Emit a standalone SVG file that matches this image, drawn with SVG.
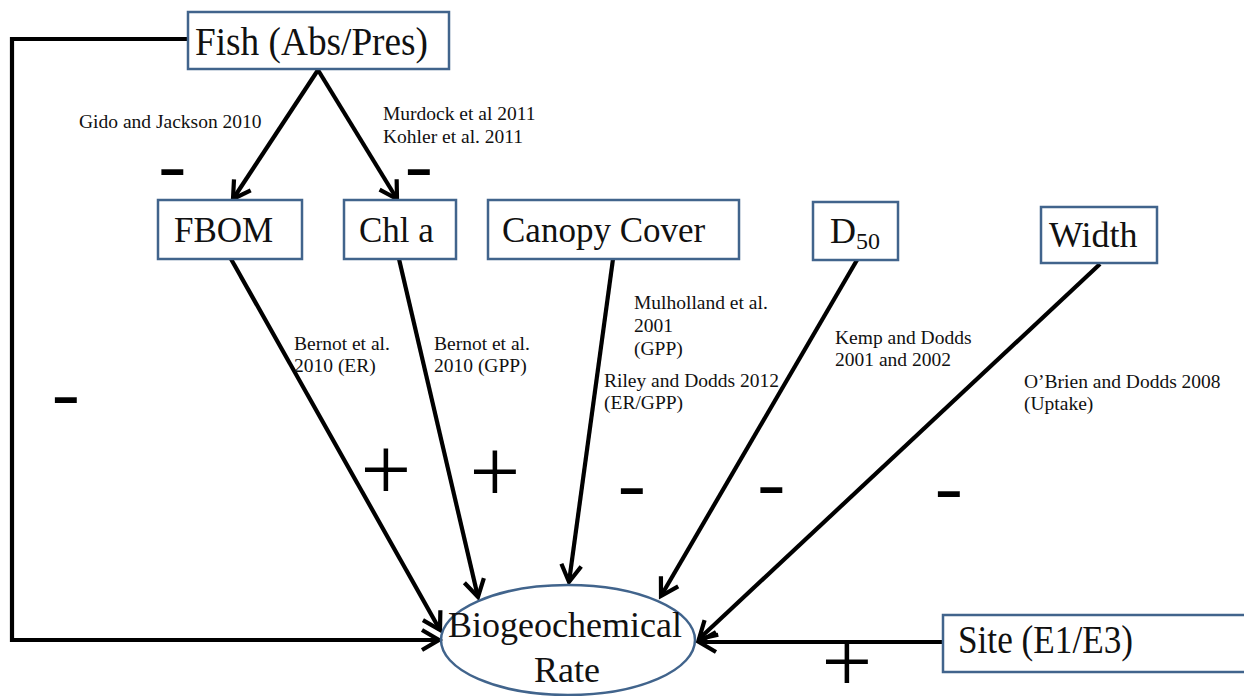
<svg xmlns="http://www.w3.org/2000/svg" width="1244" height="696" viewBox="0 0 1244 696">
<defs>
<marker id="arr" markerUnits="userSpaceOnUse" markerWidth="30" markerHeight="30" viewBox="-22 -15 26 30" refX="0" refY="0" orient="auto">
<path d="M -17 -10 L 0 0 L -17 10" fill="none" stroke="#000" stroke-width="4.2" stroke-linejoin="miter"/>
</marker>
<style>
.box{fill:#fff;stroke:#41648c;stroke-width:2.5}
.big{font-family:"Liberation Serif","Times New Roman",serif;font-size:35px;fill:#111}
.sm{font-family:"Liberation Serif","Times New Roman",serif;font-size:19.5px;fill:#111}
.con{fill:none;stroke:#000;stroke-width:4.2;marker-end:url(#arr)}
.minus{font-family:"Liberation Sans",Arial,sans-serif;font-weight:bold;font-size:48px;fill:#000}
.plus{font-family:"Liberation Serif",serif;font-size:90px;fill:#000}
</style>
</defs>
<rect width="1244" height="696" fill="#fff"/>
<g id="connectors">
<polyline class="con" points="188,39 12,39 12,640 439,640"/>
<line class="con" x1="318" y1="70" x2="233" y2="199"/>
<line class="con" x1="318" y1="70" x2="397" y2="199"/>
<line class="con" x1="231" y1="259" x2="440" y2="630"/>
<line class="con" x1="399" y1="259" x2="478" y2="597"/>
<line class="con" x1="613" y1="259" x2="569" y2="582"/>
<line class="con" x1="857" y1="260" x2="661" y2="596"/>
<line class="con" x1="1100" y1="264" x2="699" y2="639"/>
<line class="con" x1="943" y1="642" x2="699" y2="642"/>
</g>
<g id="fish"><rect class="box" x="188" y="12" width="261" height="57"/><text class="big" x="195" y="55" style="font-size:41px" textLength="233" lengthAdjust="spacingAndGlyphs">Fish (Abs/Pres)</text></g>
<g id="fbom"><rect class="box" x="158" y="200" width="144" height="59"/><text class="big" x="174" y="242">FBOM</text></g>
<g id="chla"><rect class="box" x="344" y="200" width="112" height="59"/><text class="big" x="359" y="242">Chl a</text></g>
<g id="canopy"><rect class="box" x="488" y="200" width="251" height="59"/><text class="big" x="502" y="242">Canopy Cover</text></g>
<g id="d50"><rect class="box" x="813" y="202" width="85" height="58"/><text class="big" x="830" y="243" style="font-size:36px">D<tspan dy="6" style="font-size:24px">50</tspan></text></g>
<g id="width"><rect class="box" x="1041" y="207" width="116" height="56"/><text class="big" x="1049" y="247" style="font-size:36px">Width</text></g>
<g id="site"><rect class="box" x="943" y="615" width="320" height="57"/><text class="big" x="958" y="653" style="font-size:40px" textLength="175" lengthAdjust="spacingAndGlyphs">Site (E1/E3)</text></g>
<g id="bio"><ellipse cx="568" cy="640" rx="127" ry="55" fill="none" stroke="#41648c" stroke-width="2.5"/><text class="big" x="565" y="637" text-anchor="middle" style="font-size:36px">Biogeochemical</text><text class="big" x="567" y="682" text-anchor="middle" style="font-size:36px">Rate</text></g>
<g id="labels">
<text class="sm" x="79" y="128">Gido and Jackson 2010</text>
<text class="sm" x="383" y="120">Murdock et al 2011</text>
<text class="sm" x="383" y="143">Kohler et al. 2011</text>
<text class="sm" x="294" y="350">Bernot et al.</text>
<text class="sm" x="294" y="372">2010 (ER)</text>
<text class="sm" x="434" y="350">Bernot et al.</text>
<text class="sm" x="434" y="372">2010 (GPP)</text>
<text class="sm" x="634" y="309">Mulholland et al.</text>
<text class="sm" x="634" y="332">2001</text>
<text class="sm" x="634" y="355">(GPP)</text>
<text class="sm" x="604" y="387">Riley and Dodds 2012</text>
<text class="sm" x="604" y="409">(ER/GPP)</text>
<text class="sm" x="835" y="344">Kemp and Dodds</text>
<text class="sm" x="835" y="366">2001 and 2002</text>
<text class="sm" x="1024" y="388">O’Brien and Dodds 2008</text>
<text class="sm" x="1024" y="410">(Uptake)</text>
</g>
<g id="signs">
<text class="minus" transform="translate(172.5,184.5) scale(1.8,1)" text-anchor="middle">-</text>
<text class="minus" transform="translate(419,185) scale(1.8,1)" text-anchor="middle">-</text>
<text class="minus" transform="translate(66,413) scale(1.8,1)" text-anchor="middle">-</text>
<text class="minus" transform="translate(632,503.5) scale(1.8,1)" text-anchor="middle">-</text>
<text class="minus" transform="translate(771.5,502.5) scale(1.8,1)" text-anchor="middle">-</text>
<text class="minus" transform="translate(949,507) scale(1.8,1)" text-anchor="middle">-</text>
<text class="plus" x="386" y="500" text-anchor="middle">+</text>
<text class="plus" x="495" y="502" text-anchor="middle">+</text>
<text class="plus" x="847" y="692" text-anchor="middle">+</text>
</g>
</svg>
